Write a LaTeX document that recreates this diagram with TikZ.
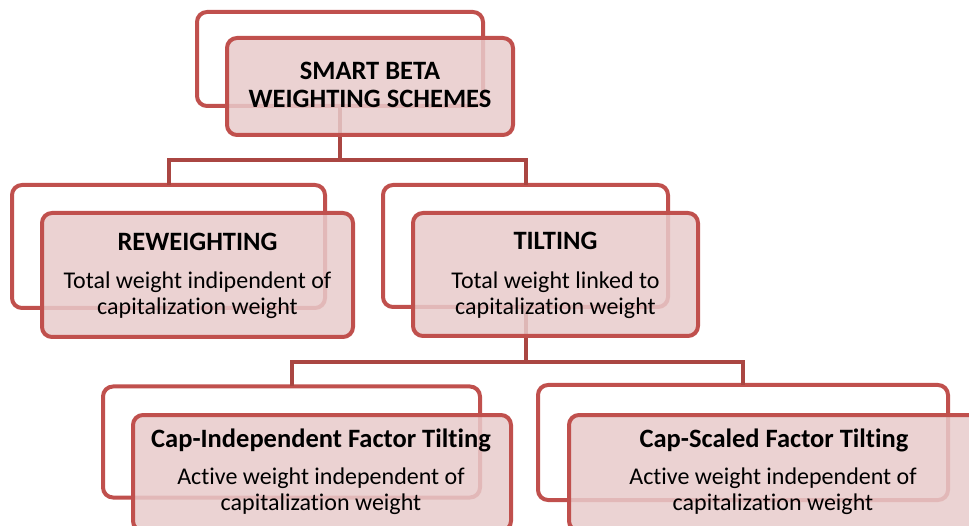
\documentclass[tikz,border=0pt]{standalone}
\usepackage{fontspec}
\setmainfont[Ligatures=NoCommon]{Carlito}
\definecolor{boxred}{RGB}{192,80,77}
\definecolor{linkred}{RGB}{170,70,66}
\definecolor{boxfill}{RGB}{232,203,203}
\begin{document}
\begin{tikzpicture}[x=1pt,y=-1pt,
  backbox/.style={draw=boxred, line width=4pt, fill=white, rounded corners=10pt,
    inner sep=0pt, outer sep=0pt},
  frontbox/.style={draw=boxred, line width=4pt, fill=boxfill, fill opacity=0.85,
    rounded corners=10pt, inner sep=0pt, outer sep=0pt},
  link/.style={draw=linkred, line width=4pt},
  headtxt/.style={anchor=base, inner sep=0pt, font=\fontsize{26.5}{30}\selectfont\bfseries},
  bodytxt/.style={anchor=base, inner sep=0pt, font=\fontsize{24}{28}\selectfont}]
\path[use as bounding box] (0,0) rectangle (969,526);
\clip (0,0) rectangle (969,526);

% back frames
\node[backbox, minimum width=286pt, minimum height=94pt]  (sbB) at (340,59) {};
\node[backbox, minimum width=313pt, minimum height=123pt] (rwB) at (168.5,246.5) {};
\node[backbox, minimum width=285pt, minimum height=122pt] (tlB) at (525.5,246) {};
\node[backbox, minimum width=377pt, minimum height=111pt] (ciB) at (291.5,442) {};
\node[backbox, minimum width=410pt, minimum height=115pt] (csB) at (743,442.5) {};

% connectors
\draw[link] (sbB.south) -- ++(0,54) -| (rwB.north);
\draw[link] (sbB.south) -- ++(0,54) -| (tlB.north);
\draw[link] (tlB.south) -- ++(0,55) -| (ciB.north);
\draw[link] (tlB.south) -- ++(0,55) -| (csB.north);

% front panels
\node[frontbox, minimum width=286pt, minimum height=97pt]  (sbF) at (370,86.5) {};
\node[frontbox, minimum width=311pt, minimum height=124pt] (rwF) at (197.5,275) {};
\node[frontbox, minimum width=285pt, minimum height=123pt] (tlF) at (555.5,274.5) {};
\node[frontbox, minimum width=378pt, minimum height=116pt] (ciF) at (322,473) {};
\node[frontbox, minimum width=410pt, minimum height=116pt] (csF) at (774,473) {};

% texts
\node[headtxt] (sbT1) at (370,80)  {SMART BETA};
\node[headtxt] (sbT2) at (370,108) {WEIGHTING SCHEMES};

\node[headtxt] (rwT) at (197.5,251) {REWEIGHTING};
\node[bodytxt] (rwL1) at (197.5,289) {Total weight indipendent of};
\node[bodytxt] (rwL2) at (197.5,315) {capitalization weight};

\node[headtxt] (tlT) at (555.5,250) {TILTING};
\node[bodytxt] (tlL1) at (555.5,289) {Total weight linked to};
\node[bodytxt] (tlL2) at (555.5,315) {capitalization weight};

\node[headtxt] (ciT) at (321,447) {Cap-Independent Factor Tilting};
\node[bodytxt] (ciL1) at (321,484) {Active weight independent of};
\node[bodytxt] (ciL2) at (321,510) {capitalization weight};

\node[headtxt] (csT) at (774,447) {Cap-Scaled Factor Tilting};
\node[bodytxt] (csL1) at (773,484) {Active weight independent of};
\node[bodytxt] (csL2) at (773,510) {capitalization weight};
\end{tikzpicture}
\end{document}
